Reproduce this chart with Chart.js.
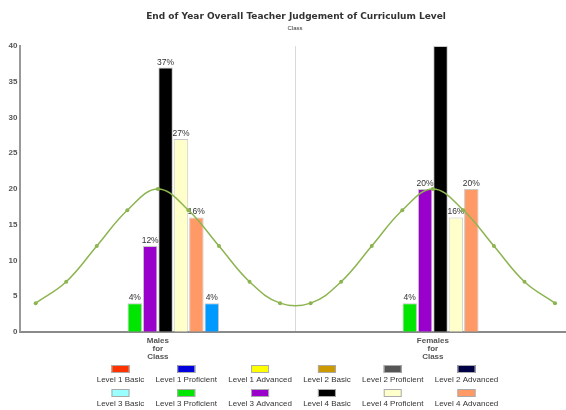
<!DOCTYPE html>
<html>
<head>
<meta charset="utf-8">
<title>End of Year Overall Teacher Judgement of Curriculum Level</title>
<script src="https://cdn.jsdelivr.net/npm/chart.js@4.4.1/dist/chart.umd.min.js"></script>
<style>
  html, body { margin: 0; padding: 0; background: #fff; overflow: hidden; }
  #wrap { position: relative; width: 590px; height: 410px; }
  #wrap canvas { position: absolute; left: 0; top: 0; }
</style>
</head>
<body>
<div id="wrap">
  <canvas id="chart" width="590" height="410"></canvas>
  <canvas id="curve" width="590" height="410"></canvas>
</div>
<script>
  const chartTitle = "End of Year Overall Teacher Judgement of Curriculum Level";
  const chartSubtitle = "Class";
  const FONT = '"Liberation Sans", Arial, sans-serif';
  const TITLE_FONT = '"DejaVu Sans", Verdana, sans-serif';

  // x categories (multi-line labels)
  const categories = [["Males", "for", "Class"], ["Females", "for", "Class"]];

  const levelNames = [
    "Level 1 Basic", "Level 1 Proficient", "Level 1 Advanced",
    "Level 2 Basic", "Level 2 Proficient", "Level 2 Advanced",
    "Level 3 Basic", "Level 3 Proficient", "Level 3 Advanced",
    "Level 4 Basic", "Level 4 Proficient", "Level 4 Advanced"
  ];
  const levelColors = [
    "#ff3300", "#0000dd", "#ffff00",
    "#cc9900", "#555555", "#000044",
    "#99ffff", "#00e600", "#9900cc",
    "#000000", "#ffffcc", "#ff9966"
  ];

  // percentages per level (null = level not reported, 0 = empty slot)
  const maleValues   = [null, null, null, null, null, 0, 0, 4, 12, 37, 27, 16];
  const femaleValues = [null, null, null, null, null, 0, 0, 4, 20, 40, 16, 20];

  // extra series, not listed in the key
  const otherName = "Other";
  const otherValues = [4, 0];
  const otherColor = "#0099ff";

  // bell curve over the bars (own chart, same plot area)
  const curveSlots = ["1", "2", "3", "4", "5", "6", "7", "8", "9", "10", "11", "12", "13", "14", "15", "16", "17", "18"];
  const curveValues = [4, 7, 12, 17, 20, 17, 12, 7, 4, 4, 7, 12, 17, 20, 17, 12, 7, 4];
  const curveColor = "#8cb450";

  const yMax = 40;
  const yStep = 5;

  // plot area shared by both canvases
  const AREA = { top: 46.1, right: 19.7, bottom: 78.3, left: 20.4 };

  // % labels above each bar
  const valueLabels = {
    id: "valueLabels",
    afterDatasetsDraw(chart) {
      const { ctx, chartArea } = chart;
      ctx.save();
      ctx.beginPath();
      ctx.rect(chartArea.left, chartArea.top, chartArea.right - chartArea.left, chartArea.bottom - chartArea.top);
      ctx.clip();
      ctx.font = "8.5px " + FONT;
      ctx.fillStyle = "#333";
      ctx.textAlign = "center";
      ctx.textBaseline = "alphabetic";
      chart.data.datasets.forEach((ds, i) => {
        const meta = chart.getDatasetMeta(i);
        meta.data.forEach((bar, j) => {
          const v = ds.data[j];
          if (!v) return;
          ctx.fillText(v + "%", bar.x, bar.y - 3);
        });
      });
      ctx.restore();
    }
  };

  // title, subtitle and the two-row key (swatch above name)
  const headerAndKey = {
    id: "headerAndKey",
    afterDraw(chart) {
      const { ctx } = chart;
      ctx.save();
      ctx.textAlign = "center";
      ctx.textBaseline = "middle";
      ctx.fillStyle = "#333";
      ctx.font = "bold 9px " + TITLE_FONT;
      ctx.fillText(chartTitle, 296, 17);
      ctx.font = "6px " + FONT;
      ctx.fillText(chartSubtitle, 295, 28);

      ctx.font = "8px " + FONT;
      const cols = 6, gap = 11.3;
      const widths = [];
      for (let c = 0; c < cols; c++) {
        widths.push(Math.max(ctx.measureText(levelNames[c]).width, ctx.measureText(levelNames[c + cols]).width));
      }
      const total = widths.reduce((a, b) => a + b, 0) + gap * (cols - 1);
      let x = 297.5 - total / 2;
      widths.forEach((w, c) => {
        const cx = x + w / 2;
        [0, 1].forEach((r) => {
          const k = r * cols + c;
          const top = 365 + r * 24;
          ctx.fillStyle = levelColors[k];
          ctx.fillRect(cx - 9, top, 18, 8);
          ctx.strokeStyle = "#aaa";
          ctx.lineWidth = 1;
          ctx.strokeRect(cx - 8.5, top + 0.5, 17, 7);
          ctx.fillStyle = "#333";
          ctx.fillText(levelNames[k], cx, top + 15);
        });
        x += w + gap;
      });
      ctx.restore();
    }
  };

  // one bar series per level that has any value; unreported levels get no slot
  const barSets = [];
  levelNames.forEach((name, k) => {
    if (maleValues[k] === null && femaleValues[k] === null) return;
    barSets.push({
      label: name,
      data: [maleValues[k], femaleValues[k]],
      backgroundColor: levelColors[k]
    });
  });
  barSets.push({ label: otherName, data: otherValues, backgroundColor: otherColor });

  new Chart(document.getElementById("chart"), {
    type: "bar",
    data: {
      labels: categories,
      datasets: barSets
    },
    options: {
      responsive: false,
      animation: false,
      devicePixelRatio: 1,
      layout: { padding: { top: AREA.top, right: AREA.right, bottom: 0, left: 0 } },
      datasets: {
        bar: {
          barThickness: 15.4,
          maxBarThickness: 14.5,
          borderWidth: 1,
          borderColor: "#c8c8c8",
          inflateAmount: 0
        }
      },
      plugins: {
        legend: { display: false },
        title: { display: false },
        tooltip: { enabled: false }
      },
      scales: {
        x: {
          type: "category",
          offset: true,
          grid: { display: true, offset: true, drawTicks: false, color: "#d9d9d9" },
          border: { color: "#8a8a8a", width: 2 },
          ticks: {
            color: "#555",
            font: { family: FONT, size: 8, weight: "bold", lineHeight: 1 },
            padding: 5,
            maxRotation: 0,
            autoSkip: false
          },
          afterFit(s) { s.height = AREA.bottom; }
        },
        y: {
          min: 0,
          max: yMax,
          ticks: {
            stepSize: yStep,
            color: "#555",
            font: { family: FONT, size: 8, weight: "bold" },
            padding: 3
          },
          grid: { display: false, drawTicks: false },
          border: { color: "#999", width: 2 },
          afterFit(s) { s.width = AREA.left; }
        }
      }
    },
    plugins: [valueLabels, headerAndKey]
  });

  // curve layer on top, axes hidden, same value range
  new Chart(document.getElementById("curve"), {
    type: "line",
    data: {
      labels: curveSlots,
      datasets: [{
        label: "Curve",
        data: curveValues,
        borderColor: curveColor,
        backgroundColor: curveColor,
        borderWidth: 1.5,
        pointRadius: 2,
        pointBorderWidth: 0,
        pointBackgroundColor: curveColor,
        tension: 0.4,
        fill: false
      }]
    },
    options: {
      responsive: false,
      animation: false,
      devicePixelRatio: 1,
      layout: { padding: AREA },
      plugins: {
        legend: { display: false },
        tooltip: { enabled: false }
      },
      scales: {
        x: { type: "category", offset: true, display: false },
        y: { min: 0, max: yMax, display: false }
      }
    }
  });
</script>
</body>
</html>
